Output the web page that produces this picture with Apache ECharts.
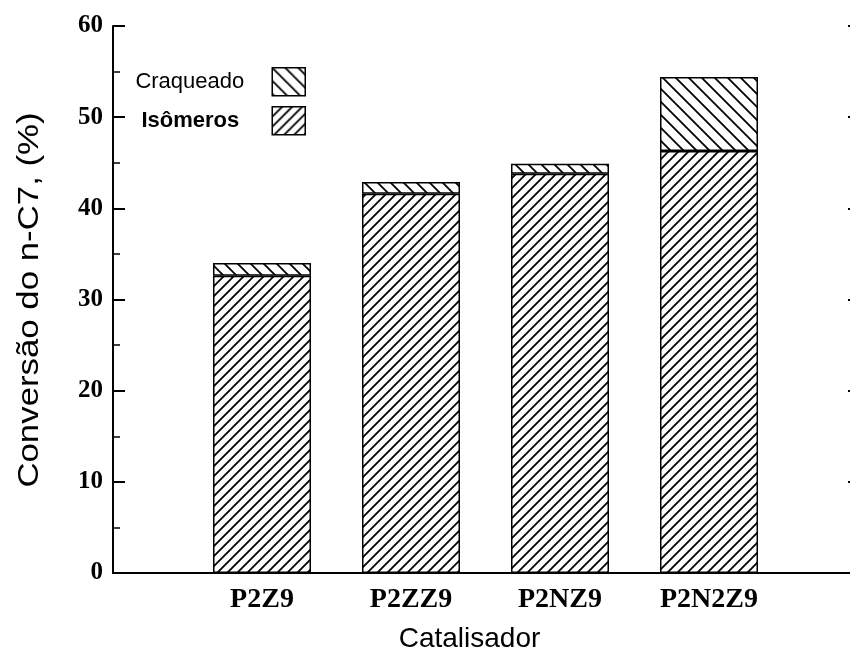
<!DOCTYPE html>
<html>
<head>
<meta charset="utf-8">
<script src="https://cdn.jsdelivr.net/npm/echarts@6/dist/echarts.min.js"></script>
<style>html,body{margin:0;padding:0;background:#fff;}#chart{width:850px;height:666px;}</style>
</head>
<body>
<div id="chart"></div>
<script>
// ---- data ----
const categories = ['P2Z9', 'P2ZZ9', 'P2NZ9', 'P2N2Z9'];
const isomeros = [32.6, 41.6, 43.8, 46.3];
const craqueado = [1.4, 1.3, 1.1, 8.1];
const yTicks = [0, 10, 20, 30, 40, 50, 60];

// ---- hatch patterns ----
function hatch(size, dir) {
  const c = document.createElement('canvas');
  c.width = size; c.height = size;
  const ctx = c.getContext('2d');
  ctx.fillStyle = '#fff';
  ctx.fillRect(0, 0, size, size);
  ctx.strokeStyle = '#000';
  ctx.lineWidth = 1.8;
  ctx.beginPath();
  if (dir === '/') {
    ctx.moveTo(0, size); ctx.lineTo(size, 0);
    ctx.moveTo(-2, 2); ctx.lineTo(2, -2);
    ctx.moveTo(size - 2, size + 2); ctx.lineTo(size + 2, size - 2);
  } else {
    ctx.moveTo(0, 0); ctx.lineTo(size, size);
    ctx.moveTo(-2, size - 2); ctx.lineTo(2, size + 2);
    ctx.moveTo(size - 2, -2); ctx.lineTo(size + 2, 2);
  }
  ctx.stroke();
  return { image: c, repeat: 'repeat' };
}

const axisCats = [''].concat(categories, ['']);
const pad = arr => [null].concat(arr, [null]);

const serif = '"Liberation Serif", "Times New Roman", serif';
const sans = '"Liberation Sans", Arial, sans-serif';

const chart = echarts.init(document.getElementById('chart'), null, { renderer: 'canvas' });
chart.setOption({
  backgroundColor: '#fff',
  animation: false,
  grid: { left: 113, right: -8, top: 26, bottom: 93, containLabel: false, outerBoundsMode: 'none' },
  legend: [
    {
      data: ['Craqueado'], orient: 'vertical', align: 'right', right: 544, top: 67,
      padding: 0, itemWidth: 33, itemHeight: 28, icon: 'rect', selectedMode: false,
      itemStyle: { borderColor: '#000', borderWidth: 1.5 },
      textStyle: { fontFamily: sans, fontSize: 22, color: '#000', padding: [0, 23, 0, 0] }
    },
    {
      data: ['Isômeros'], orient: 'vertical', align: 'right', right: 544, top: 106,
      padding: 0, itemWidth: 33, itemHeight: 28, icon: 'rect', selectedMode: false,
      itemStyle: { borderColor: '#000', borderWidth: 1.5 },
      textStyle: { fontFamily: sans, fontSize: 22, fontWeight: 'bold', color: '#000', padding: [0, 28, 0, 0] }
    }
  ],
  graphic: [
    {
      type: 'text', x: 30, y: 300, rotation: Math.PI / 2, scaleX: 1.2,
      style: {
        text: 'Conversão do n-C7, (%)', fontFamily: sans, fontSize: 29, fill: '#000',
        align: 'center', verticalAlign: 'middle'
      }
    }
  ],
  xAxis: [
    {
      type: 'category', data: axisCats, boundaryGap: false, position: 'bottom',
      axisLine: { lineStyle: { color: '#000', width: 2 } },
      axisTick: { show: false },
      axisLabel: { color: '#000', fontFamily: serif, fontWeight: 'bold', fontSize: 28, margin: 13, interval: 0 },
      splitLine: { show: false },
      name: 'Catalisador', nameLocation: 'middle', nameGap: 52,
      nameTextStyle: { fontFamily: sans, fontSize: 28, color: '#000', padding: [0, 32, 0, 0] }
    },
    {
      type: 'category', data: axisCats, boundaryGap: false, position: 'top',
      axisLine: { lineStyle: { color: '#000', width: 2 } },
      axisTick: { show: false }, axisLabel: { show: false }, splitLine: { show: false }
    }
  ],
  yAxis: [
    {
      type: 'value', min: yTicks[0], max: yTicks[yTicks.length - 1], interval: 10, position: 'left',
      axisLine: { show: true, lineStyle: { color: '#000', width: 2 } },
      axisTick: { show: true, inside: true, length: 12, lineStyle: { color: '#000', width: 2 } },
      minorTick: { show: true, splitNumber: 2, length: 7, lineStyle: { color: '#000', width: 1.5 } },
      axisLabel: { color: '#000', fontFamily: serif, fontWeight: 'bold', fontSize: 25, margin: 10 },
      splitLine: { show: false }
    },
    {
      type: 'value', min: yTicks[0], max: yTicks[yTicks.length - 1], interval: 10, position: 'right',
      axisLine: { show: true, lineStyle: { color: '#000', width: 2 } },
      axisTick: { show: true, inside: true, length: 10, lineStyle: { color: '#000', width: 2 } },
      axisLabel: { show: false }, splitLine: { show: false }
    }
  ],
  series: [
    {
      name: 'Isômeros', type: 'bar', stack: 'total', barWidth: 98, data: pad(isomeros),
      itemStyle: { color: hatch(10, '/'), borderColor: '#000', borderWidth: 1.5 }
    },
    {
      name: 'Craqueado', type: 'bar', stack: 'total', barWidth: 98, data: pad(craqueado),
      itemStyle: { color: hatch(13, '\\'), borderColor: '#000', borderWidth: 1.5 }
    }
  ]
});
</script>
</body>
</html>
